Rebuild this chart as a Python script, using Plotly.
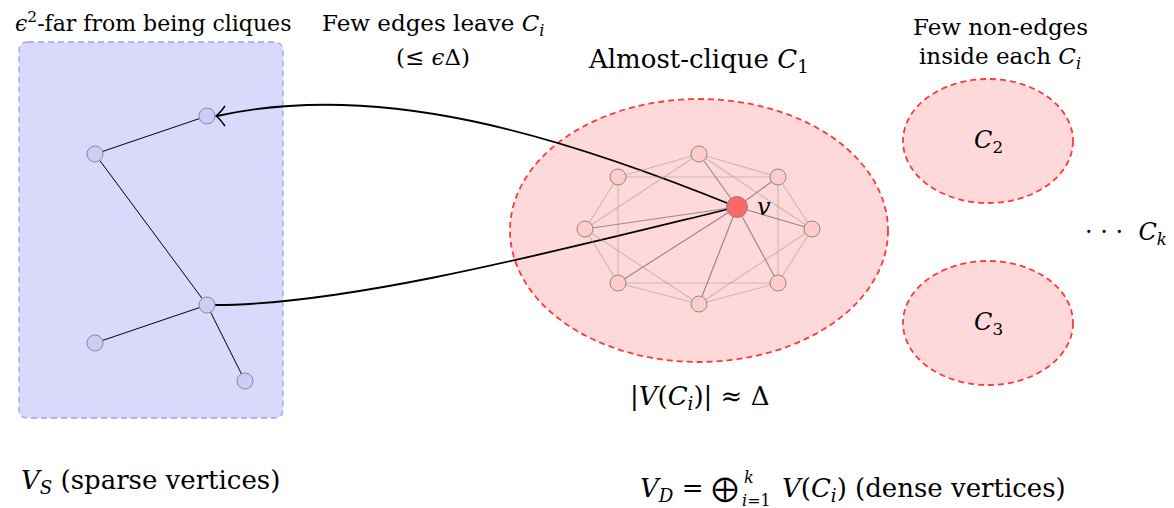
import plotly.graph_objects as go

# ---------------- data ----------------
# sparse vertices (left box)
sparse_x = [95, 207, 207, 95, 245]
sparse_y = [154, 116, 305, 343, 381]
sparse_edges = [(0, 1), (0, 2), (2, 3), (2, 4)]

# almost-clique C1 vertices
clique_x = [812, 778, 699, 618, 585, 618, 699, 778]
clique_y = [229, 177, 154, 177, 229, 283, 304, 283]
clique_edges = [(0, 1), (1, 2), (2, 3), (3, 4), (4, 5), (5, 6), (6, 7), (7, 0),
                (1, 3), (5, 7), (3, 5), (1, 7), (4, 2), (4, 6), (0, 2), (0, 6)]
v_x = [737]
v_y = [207]
v_neighbors = [2, 1, 0, 7, 6, 5, 4]

FONT = "DejaVu Serif"
PAGE_OFFSET = 8  # browser default body margin


def segments(xa, ya, xb, yb, edges):
    X, Y = [], []
    for a, b in edges:
        X += [xa[a], xb[b], None]
        Y += [ya[a], yb[b], None]
    return X, Y


fig = go.Figure()

# clique light edges
ex, ey = segments(clique_x, clique_y, clique_x, clique_y, clique_edges)
fig.add_trace(go.Scatter(x=ex, y=ey, mode="lines", hoverinfo="skip",
                         line=dict(color="rgba(150,150,150,0.5)", width=1.1)))
# v edges
vx, vy = segments(v_x, v_y, clique_x, clique_y, [(0, n) for n in v_neighbors])
fig.add_trace(go.Scatter(x=vx, y=vy, mode="lines", hoverinfo="skip",
                         line=dict(color="rgba(120,120,120,0.8)", width=1.2)))
# sparse edges
sx, sy = segments(sparse_x, sparse_y, sparse_x, sparse_y, sparse_edges)
fig.add_trace(go.Scatter(x=sx, y=sy, mode="lines", hoverinfo="skip",
                         line=dict(color="black", width=1)))

# nodes
fig.add_trace(go.Scatter(x=sparse_x, y=sparse_y, mode="markers", hoverinfo="skip",
                         marker=dict(size=16, color="#ccccf8",
                                     line=dict(color="#8a8a8a", width=1))))
fig.add_trace(go.Scatter(x=clique_x, y=clique_y, mode="markers", hoverinfo="skip",
                         marker=dict(size=16, color="#ffcccc",
                                     line=dict(color="#8a8a8a", width=1))))
fig.add_trace(go.Scatter(x=v_x, y=v_y, mode="markers", hoverinfo="skip",
                         marker=dict(size=21, color="#ff6666",
                                     line=dict(color="#8a8a8a", width=1))))

# ---------------- shapes ----------------
x0, x1, y0, y1, r = 19, 283, 42, 418, 9
box_path = (f"M {x0+r},{y0} L {x1-r},{y0} Q {x1},{y0} {x1},{y0+r} "
            f"L {x1},{y1-r} Q {x1},{y1} {x1-r},{y1} L {x0+r},{y1} "
            f"Q {x0},{y1} {x0},{y1-r} L {x0},{y0+r} Q {x0},{y0} {x0+r},{y0} Z")
shapes = [
    dict(type="path", path=box_path, fillcolor="#d9d9fc", layer="below",
         line=dict(color="#9f9ff5", width=1.3, dash="6px,4px")),
    dict(type="circle", x0=510, x1=888, y0=99, y1=362, fillcolor="#ffd9d9",
         layer="below", line=dict(color="#ff3838", width=1.8, dash="6px,4px")),
    dict(type="circle", x0=903, x1=1073, y0=79, y1=203, fillcolor="#ffd9d9",
         layer="below", line=dict(color="#ff3838", width=1.8, dash="6px,4px")),
    dict(type="circle", x0=903, x1=1073, y0=261, y1=385, fillcolor="#ffd9d9",
         layer="below", line=dict(color="#ff3838", width=1.8, dash="6px,4px")),
    dict(type="path", path="M 737,207 C 560,135 380,80 217,116", layer="below",
         line=dict(color="black", width=1.8)),
    dict(type="path", path="M 737,207 C 560,250 350,305 215,305", layer="below",
         line=dict(color="black", width=1.8)),
    dict(type="path", path="M 225,106 Q 220,113 216,116 Q 220,119 225,126",
         layer="above", line=dict(color="black", width=1.5)),
]

# ---------------- text ----------------
def ann(x, y, text, size=23, xanchor="center"):
    return dict(x=x, y=y, xref="x", yref="y", text=text, showarrow=False,
                xanchor=xanchor, yanchor="middle",
                font=dict(family=FONT, size=size, color="black"))


annotations = [
    ann(153, 22, "<i>ϵ</i><sup>2</sup>-far from being cliques", size=22),
    ann(433, 25, "Few edges leave <i>C<sub>i</sub></i>"),
    ann(433, 57, "(≤ <i>ϵ</i>Δ)"),
    ann(698, 60, "Almost-clique <i>C</i><sub>1</sub>", size=26),
    ann(1000, 27, "Few non-edges"),
    ann(1000, 58, "inside each <i>C<sub>i</sub></i>"),
    ann(988, 141, "<i>C</i><sub>2</sub>", size=24),
    ann(988, 323, "<i>C</i><sub>3</sub>", size=24),
    ann(764, 207, "<i>v</i>", size=24),
    ann(1126, 233, "· · ·  <i>C<sub>k</sub></i>", size=24),
    ann(699, 397, "|<i>V</i>(<i>C<sub>i</sub></i>)| ≈ Δ", size=26),
    ann(150, 481, "<i>V<sub>S</sub></i> (sparse vertices)", size=26),
    ann(740, 489, "<i>V<sub>D</sub></i> = ⨁", size=26, xanchor="right"),
    ann(742, 477, "<i>k</i>", size=16, xanchor="left"),
    ann(740, 500, "<i>i</i>=1", size=16, xanchor="left"),
    ann(780, 489, "<i>V</i>(<i>C<sub>i</sub></i>) (dense vertices)", size=26,
        xanchor="left"),
]

fig.update_layout(
    width=1174, height=508, margin=dict(l=0, r=0, t=0, b=0),
    paper_bgcolor="white", plot_bgcolor="white", showlegend=False,
    xaxis=dict(range=[PAGE_OFFSET, 1174 + PAGE_OFFSET], visible=False,
               fixedrange=True),
    yaxis=dict(range=[508 + PAGE_OFFSET, PAGE_OFFSET], visible=False,
               fixedrange=True),
    shapes=shapes, annotations=annotations,
)

fig.write_html("out.html")
